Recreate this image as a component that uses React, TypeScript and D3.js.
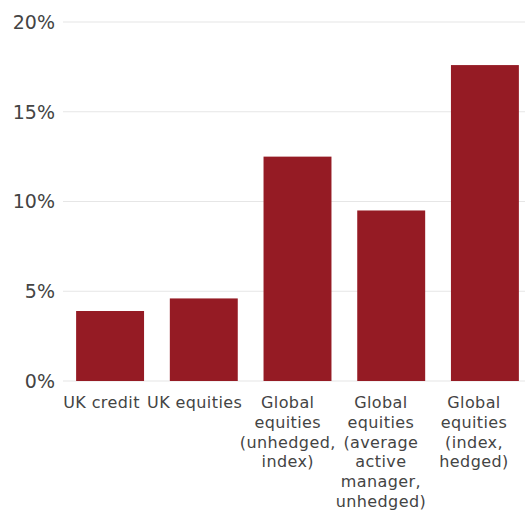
import React from "react";
import * as d3 from "d3";

const categories: string[][] = [
  ["UK credit"],
  ["UK equities"],
  ["Global", "equities", "(unhedged,", "index)"],
  ["Global", "equities", "(average", "active", "manager,", "unhedged)"],
  ["Global", "equities", "(index,", "hedged)"],
];
const values: number[] = [3.9, 4.6, 12.5, 9.5, 17.6];
const yTicks: number[] = [0, 5, 10, 15, 20];

const W = 525;
const H = 513;
const FONT = "'DejaVu Sans', sans-serif";

export default function App() {
  const keys = categories.map((_, i) => String(i));
  const x = d3.scaleBand<string>().domain(keys).range([63, 532]).paddingInner(0.275).paddingOuter(0.14);
  const xLabel = d3.scalePoint<string>().domain(keys).range([101.5, 474]);
  const y = d3.scaleLinear().domain([0, 20]).range([381, 22]);
  return (
    <svg width={W} height={H} style={{ position: "absolute", left: 0, top: 0 }}>
      {yTicks.map((t) => (
        <g key={t}>
          <line x1={63} x2={525} y1={y(t)} y2={y(t)} stroke="#e6e6e6" strokeWidth={1.2} />
          <text x={55} y={y(t)} dy="0.36em" textAnchor="end" fontFamily={FONT} fontSize={19} fill="#444">
            {t}%
          </text>
        </g>
      ))}
      {values.map((v, i) => (
        <rect key={i} x={x(keys[i])} y={y(v)} width={x.bandwidth()} height={y(0) - y(v)} fill="#951b24" />
      ))}
      {categories.map((lines, i) => (
        <text key={i} textAnchor="middle" fontFamily={FONT} fontSize={16} letterSpacing={0.4} fill="#444">
          {lines.map((l, j) => (
            <tspan key={j} x={xLabel(keys[i]) as number} y={408 + j * 19.8}>
              {l}
            </tspan>
          ))}
        </text>
      ))}
    </svg>
  );
}
